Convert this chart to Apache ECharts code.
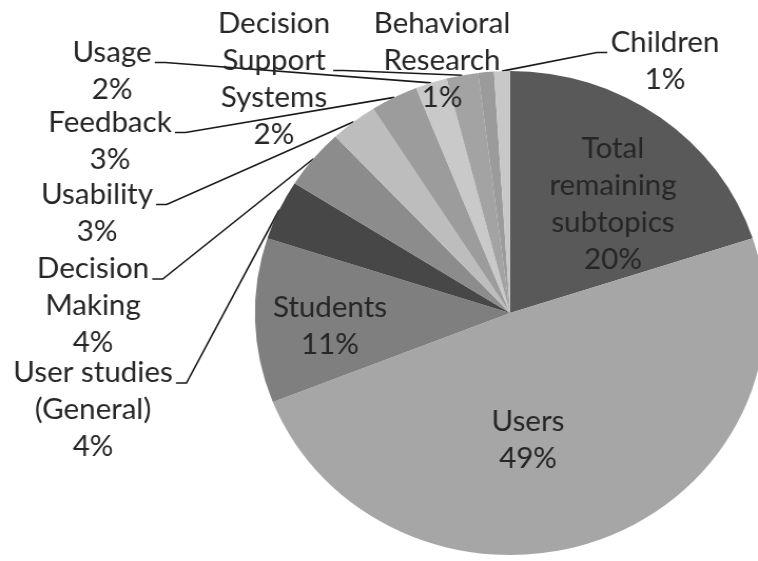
<!DOCTYPE html>
<html>
<head>
<meta charset="utf-8">
<script src="https://cdn.jsdelivr.net/npm/echarts@6/dist/echarts.min.js"></script>
<style>
  html, body { margin: 0; padding: 0; background: #ffffff; overflow: hidden; }
  /* the chart is drawn slightly narrower and widened to the full page,
     which gives the pie its gently oval shape */
  #chart { width: 719px; height: 561px; transform: scaleX(1.0542); transform-origin: 0 0; }
</style>
</head>
<body>
<div id="chart"></div>
<script>
// Subtopic names (clockwise from 12 o'clock) and their shares in percent
const topics = [
  'Total\nremaining\nsubtopics', 'Users', 'Students', 'User studies\n(General)',
  'Decision\nMaking', 'Usability', 'Feedback', 'Usage',
  'Decision\nSupport\nSystems', 'Behavioral\nResearch', 'Children'
];
const shares = [20, 49, 11, 4, 4, 3, 3, 2, 2, 1, 1];

// Grey shades for each slice
const sliceColors = [
  '#595959', '#a6a6a6', '#7f7f7f', '#474747', '#8c8c8c', '#bdbdbd',
  '#9c9c9c', '#c9c9c9', '#a3a3a3', '#9b9b9b', '#c8c8c8'
];

// Labels that sit inside their own slice
const insideLabel = [true, true, true, false, false, false, false, false, false, false, false];

// Text row that each leader line meets (null: no leader line)
const hookRow = [null, null, null, 0, 0, 0, 0, 0, 1, null, 0];

// Centre of each label's text block, in page pixels
const labelSpots = [
  [613, 204], [528, 440], [330, 326], [93, 410], [93, 306], [97, 213],
  [110, 141], [112, 71], [274, 79], [442, 61], [665, 61]
];

const STRETCH = 1.0542;
const LINE_H = 37;

const chart = echarts.init(document.getElementById('chart'), null, { renderer: 'canvas' });

const pieData = topics.map((name, i) => ({
  name: name,
  value: shares[i],
  itemStyle: { color: sliceColors[i] },
  label: { position: insideLabel[i] ? 'inside' : 'outside' },
  labelLine: { show: hookRow[i] !== null }
}));

chart.setOption({
  animation: false,
  backgroundColor: '#ffffff',
  series: [{
    type: 'pie',
    center: [510 / STRETCH, 313],
    radius: 242,
    startAngle: 90,
    clockwise: true,
    avoidLabelOverlap: false,
    data: pieData,
    itemStyle: { borderWidth: 0 },
    label: {
      formatter: '{b}\n{c}%',
      fontFamily: 'Lato',
      fontSize: 28,
      lineHeight: LINE_H,
      color: '#262626',
      align: 'center'
    },
    labelLine: {
      length: 10,
      length2: 9,
      lineStyle: { color: '#1a1a1a', width: 1.6 }
    },
    labelLayout: function (params) {
      const i = params.dataIndex;
      const cx = labelSpots[i][0] / STRETCH;
      const cy = labelSpots[i][1];
      const layout = { x: cx, y: cy, align: 'center', verticalAlign: 'middle' };
      const pts = params.labelLinePoints;
      if (hookRow[i] !== null && pts && pts.length) {
        // Leader line: from the slice edge to a short horizontal tick beside the hooked text row
        const anchor = pts[0];
        const rows = topics[i].split('\n').length + 1;
        const hookY = cy - rows * LINE_H / 2 + (hookRow[i] + 0.5) * LINE_H + 10;
        const side = anchor[0] > cx ? 1 : -1;
        const edgeX = cx + side * (params.labelRect.width / 2 + 3);
        layout.labelLinePoints = [
          [anchor[0], anchor[1]],
          [edgeX + side * 10, hookY],
          [edgeX, hookY]
        ];
      }
      return layout;
    }
  }]
});
</script>
</body>
</html>
